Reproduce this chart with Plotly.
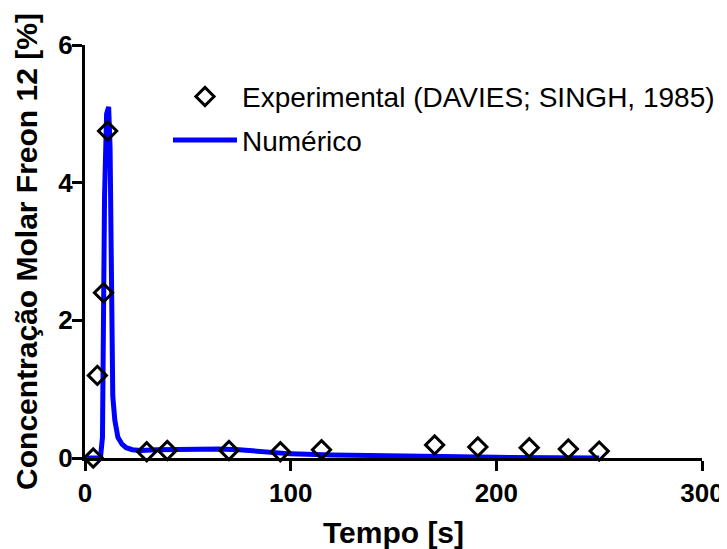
import plotly.graph_objects as go

# Experimental data (DAVIES; SINGH, 1985)
exp_t = [4, 6, 9, 11, 30, 40, 70, 95, 115, 170, 191, 216, 235, 250]
exp_c = [0.0, 1.2, 2.4, 4.75, 0.09, 0.11, 0.11, 0.09, 0.12, 0.19, 0.16, 0.15, 0.13, 0.10]

# Numerical curve
num_t = [0, 7.5, 8.5, 9, 9.5, 10.5, 11.5, 12.2, 12.6, 13, 13.5, 14.5, 16, 18, 20,
         23, 27, 35, 50, 65, 75, 90, 100, 120, 150, 200, 250]
num_c = [0, 0, 0.3, 2.0, 3.8, 5.0, 5.1, 4.5, 3.0, 1.6, 0.9, 0.55, 0.3, 0.2, 0.15,
         0.12, 0.11, 0.12, 0.13, 0.13, 0.12, 0.08, 0.06, 0.045, 0.03, 0.01, 0.0]

x_ticks = [0, 100, 200, 300]
y_ticks = [0, 2, 4, 6]

font_family = "Liberation Sans, Arial, sans-serif"

fig = go.Figure()
fig.add_trace(go.Scatter(
    x=num_t, y=num_c, mode="lines", name="Numérico", legendgroup="num",
    legendrank=2,
    line=dict(color="#0000FF", width=5),
    cliponaxis=False,
))
fig.add_trace(go.Scatter(
    x=exp_t, y=exp_c, mode="markers", name="Experimental (DAVIES; SINGH, 1985)",
    legendgroup="exp", legendrank=1,
    marker=dict(symbol="diamond-open", size=14, color="black", line=dict(width=3, color="black")),
    cliponaxis=False,
))

fig.update_layout(
    template="none",
    width=719, height=541,
    margin=dict(l=77, r=25, t=37, b=91, autoexpand=False),
    paper_bgcolor="white", plot_bgcolor="white",
    font=dict(family=font_family, size=20, color="black"),
    showlegend=True,
    legend=dict(
        x=0.1345, y=0.935, xanchor="left", yanchor="top",
        traceorder="grouped",
        font=dict(size=28, family=font_family, color="black"),
        bgcolor="rgba(0,0,0,0)",
        itemwidth=64,
        tracegroupgap=4,
    ),
    xaxis=dict(
        range=[0, 300], tickvals=x_ticks, automargin=False,
        showline=True, linecolor="black", linewidth=3,
        ticks="outside", ticklen=10, tickwidth=3, tickcolor="black",
        showgrid=False, zeroline=False,
        tickfont=dict(size=26, family=font_family, weight="bold", color="black"),
        title=dict(text="<b>Tempo [s]</b>", font=dict(size=30, color="black"), standoff=21),
    ),
    yaxis=dict(
        range=[0, 6], tickvals=y_ticks, automargin=False,
        showline=True, linecolor="black", linewidth=3,
        ticks="outside", ticklen=10, tickwidth=3, tickcolor="black",
        ticklabelstandoff=-6,
        showgrid=False, zeroline=False,
        tickfont=dict(size=26, family=font_family, weight="bold", color="black"),
        title=dict(text="<b>Concentração Molar Freon 12 [%]</b>", font=dict(size=30, color="black"), standoff=12),
    ),
)

fig.write_html("out.html")
